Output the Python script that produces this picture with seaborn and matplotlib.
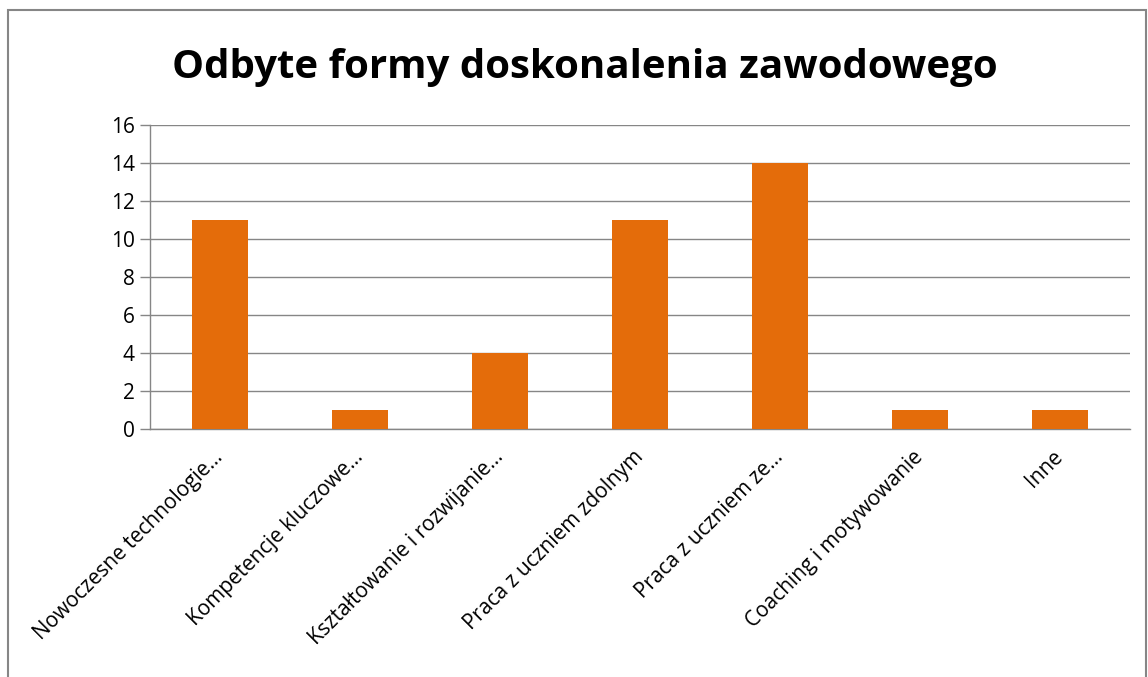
import matplotlib
matplotlib.use("Agg")
import matplotlib.pyplot as plt
import seaborn as sns
import pandas as pd
import numpy as np
from matplotlib.patches import Rectangle

categories = [
    "Nowoczesne technologie…",
    "Kompetencje kluczowe…",
    "Kształtowanie i rozwijanie…",
    "Praca z uczniem zdolnym",
    "Praca z uczniem ze…",
    "Coaching i motywowanie",
    "Inne",
]
values = [11, 1, 4, 11, 14, 1, 1]
y_ticks = [0, 2, 4, 6, 8, 10, 12, 14, 16]
title = "Odbyte formy doskonalenia zawodowego"

sns.set_style("white")
plt.rcParams["font.family"] = ["Open Sans", "DejaVu Sans"]
plt.rcParams["text.color"] = "black"
plt.rcParams["xtick.color"] = "black"
plt.rcParams["ytick.color"] = "black"

df = pd.DataFrame({"forma": categories, "liczba": values})

fig = plt.figure(figsize=(11.48, 6.77), dpi=100)
ax = fig.add_axes([0.1307, 0.3663, 0.8536, 0.4491])

sns.barplot(data=df, x="forma", y="liczba", color="#E46C0A", width=0.4,
            saturation=1, linewidth=0, ax=ax, zorder=3)

grid_c = "#868686"
ax.set_ylim(0, 16)
ax.set_xlim(-0.5, len(categories) - 0.5)
ax.set_yticks(y_ticks)
ax.yaxis.grid(True, color=grid_c, linewidth=1, zorder=0)
ax.set_axisbelow(True)
for s in ["top", "right"]:
    ax.spines[s].set_visible(False)
for s in ["left", "bottom"]:
    ax.spines[s].set_color(grid_c)
    ax.spines[s].set_linewidth(1)

ax.set_xticks(np.arange(len(categories)))
ax.set_xticklabels(categories, rotation=45, ha="right", va="center",
                   rotation_mode="anchor", fontsize=15)
ax.tick_params(axis="x", which="major", length=0, pad=18)
ax.set_xticks(np.arange(-0.5, len(categories)), minor=True)
ax.tick_params(axis="x", which="minor", length=7, color=grid_c, width=1)
ax.tick_params(axis="y", length=7, color=grid_c, labelcolor="black", width=1,
               labelsize=15, pad=4, left=True)
ax.set_xlabel("")
ax.set_ylabel("")

fig.text(0.509, 0.9, title, ha="center", va="center", fontsize=29,
         fontweight="bold", color="black")

fig.patches.append(Rectangle((0.007, -0.02), 0.991, 1.005, transform=fig.transFigure,
                             fill=False, edgecolor="#868686", linewidth=1.5))

fig.savefig("out.png", dpi=100)
